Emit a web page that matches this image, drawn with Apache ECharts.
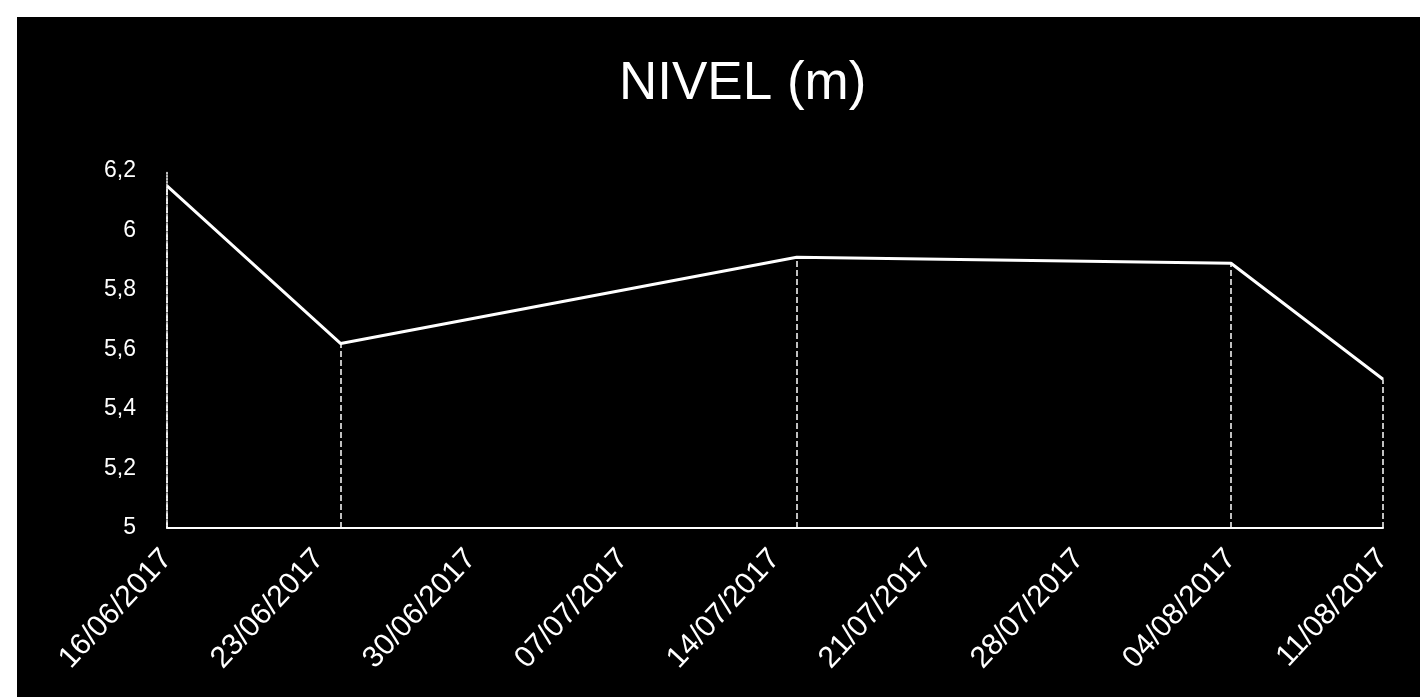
<!DOCTYPE html>
<html>
<head>
<meta charset="utf-8">
<script src="https://cdn.jsdelivr.net/npm/echarts@6/dist/echarts.min.js"></script>
<style>
html,body{margin:0;padding:0;background:#fff;}
#chart{width:1420px;height:697px;}
</style>
</head>
<body>
<div id="chart"></div>
<script>
// ---- data ----
const titleText = 'NIVEL (m)';
const dates = ['16/06/2017', '24/06/2017', '15/07/2017', '04/08/2017', '11/08/2017'];
const values = [6.15, 5.62, 5.91, 5.89, 5.50];
const axisStartDate = '16/06/2017';
const axisEndDate = '11/08/2017';
const tickStepDays = 7;
const yMin = 5, yMax = 6.2, yStep = 0.2;

// ---- helpers ----
function parseDate(s) {
  const p = s.split('/').map(Number);
  return Date.UTC(p[2], p[1] - 1, p[0]);
}
const DAY = 86400000;
const t0 = parseDate(axisStartDate);
function dayOffset(s) { return Math.round((parseDate(s) - t0) / DAY); }
function fmt(off) {
  const d = new Date(t0 + off * DAY);
  const dd = String(d.getUTCDate()).padStart(2, '0');
  const mm = String(d.getUTCMonth() + 1).padStart(2, '0');
  return dd + '/' + mm + '/' + d.getUTCFullYear();
}
const points = dates.map((d, i) => [dayOffset(d), values[i]]);
const dropLines = points.map(p => [{ coord: [p[0], yMin] }, { coord: [p[0], p[1]] }]);

const chart = echarts.init(document.getElementById('chart'));
chart.setOption({
  backgroundColor: '#ffffff',
  animation: false,
  graphic: [{
    type: 'rect', z: -10, silent: true,
    shape: { x: 17, y: 17, width: 1420, height: 697 },
    style: { fill: '#000000' }
  }, {
    type: 'polygon', z: -10, silent: true,
    shape: { points: [[17, 352], [27, 362], [17, 372]] },
    style: { fill: '#000000' }
  }],
  title: {
    text: titleText,
    left: 614, top: 53,
    textStyle: { color: '#ffffff', fontSize: 53, fontWeight: 'normal', fontFamily: 'Liberation Sans' }
  },
  grid: { left: 167, right: 37, top: 171, bottom: 169 },
  xAxis: {
    type: 'value',
    min: 0, max: dayOffset(axisEndDate), interval: tickStepDays,
    axisLine: { show: true, lineStyle: { color: '#ffffff', width: 2 } },
    axisTick: { show: false },
    splitLine: { show: false },
    axisLabel: {
      color: '#ffffff', fontSize: 30, fontFamily: 'Liberation Sans',
      rotate: 47, margin: 26,
      formatter: v => fmt(v)
    }
  },
  yAxis: {
    type: 'value',
    min: yMin, max: yMax, interval: yStep,
    axisLine: { show: true, lineStyle: { color: '#ffffff', width: 1.5, type: 'dotted' } },
    axisTick: { show: false },
    splitLine: { show: false },
    axisLabel: {
      color: '#ffffff', fontSize: 23, fontFamily: 'Liberation Sans', margin: 31,
      formatter: v => String(Math.round(v * 10) / 10).replace('.', ',')
    }
  },
  series: [{
    type: 'line',
    data: points,
    symbol: 'none',
    lineStyle: { color: '#ffffff', width: 3 },
    markLine: {
      silent: true,
      symbol: 'none',
      label: { show: false },
      lineStyle: { color: '#ffffff', width: 1.5, type: 'dashed' },
      data: dropLines
    }
  }]
});
</script>
</body>
</html>
